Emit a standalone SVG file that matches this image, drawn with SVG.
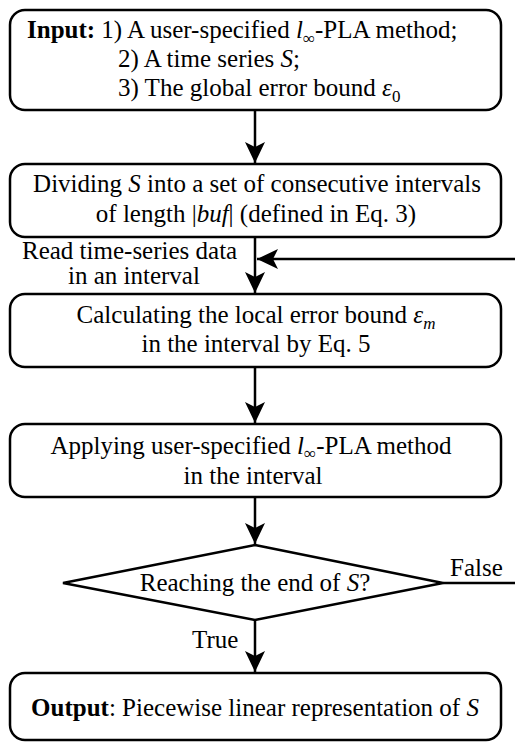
<svg xmlns="http://www.w3.org/2000/svg" width="515" height="744" viewBox="0 0 515 744">
  <defs>
    <marker id="arrow" markerUnits="userSpaceOnUse" markerWidth="24" markerHeight="24" viewBox="-22 -11 24 22" refX="0" refY="0" orient="auto">
      <path d="M0,0 L-21,-10 L-16,0 L-21,10 Z" fill="#000"/>
    </marker>
    <style>
      .box { fill: #fff; stroke: #000; stroke-width: 2.5; }
      .edge { fill: none; stroke: #000; stroke-width: 2.5; }
      text { font-family: "Liberation Serif", "Times New Roman", serif; font-size: 25px; fill: #000; }
      .c { text-anchor: middle; }
      .i { font-style: italic; }
      .b { font-weight: bold; }
    </style>
  </defs>

  <rect width="515" height="744" fill="#fff"/>

  <!-- connectors -->
  <g id="connectors">
    <path class="edge" d="M255,110 V163" marker-end="url(#arrow)"/>
    <path class="edge" d="M255,237 V293" marker-end="url(#arrow)"/>
    <path class="edge" d="M515,259 H257" marker-end="url(#arrow)"/>
    <path class="edge" d="M255,367 V423" marker-end="url(#arrow)"/>
    <path class="edge" d="M255,497 V544" marker-end="url(#arrow)"/>
    <path class="edge" d="M255,620 V672" marker-end="url(#arrow)"/>
    <path class="edge" d="M443,583 H515"/>
    <text x="22" y="259">Read time-series data</text>
    <text x="68" y="284">in an interval</text>
    <text x="450" y="576">False</text>
    <text x="192" y="648">True</text>
  </g>

  <!-- input -->
  <g id="input">
    <rect class="box" x="10" y="10" width="491" height="100" rx="15"/>
    <text x="27" y="38"><tspan class="b">Input:</tspan> 1) A user-specified <tspan class="i">l</tspan><tspan font-size="17" dy="6">∞</tspan><tspan dy="-6">-PLA method;</tspan></text>
    <text x="118" y="67">2) A time series <tspan class="i">S</tspan>;</text>
    <text x="118" y="96">3) The global error bound <tspan class="i">ε</tspan><tspan font-size="17" dy="6">0</tspan></text>
  </g>

  <!-- divide -->
  <g id="divide">
    <rect class="box" x="10" y="164" width="491" height="73" rx="15"/>
    <text class="c" x="257" y="192">Dividing <tspan class="i">S</tspan> into a set of consecutive intervals</text>
    <text class="c" x="256" y="222">of length |<tspan class="i">buf</tspan>| (defined in Eq. 3)</text>
  </g>

  <!-- local bound -->
  <g id="local-bound">
    <rect class="box" x="10" y="294" width="491" height="73" rx="15"/>
    <text class="c" x="256" y="323">Calculating the local error bound <tspan class="i">ε</tspan><tspan class="i" font-size="17" dy="6">m</tspan></text>
    <text class="c" x="256" y="352">in the interval by Eq. 5</text>
  </g>

  <!-- apply PLA -->
  <g id="apply-pla">
    <rect class="box" x="10" y="424" width="491" height="73" rx="15"/>
    <text class="c" x="251" y="454">Applying user-specified <tspan class="i">l</tspan><tspan font-size="17" dy="5">∞</tspan><tspan dy="-5">-PLA method</tspan></text>
    <text class="c" x="253" y="484">in the interval</text>
  </g>

  <!-- decision -->
  <g id="decision">
    <polygon class="box" points="255,545 443,583 255,620 63,583"/>
    <text class="c" x="255" y="591">Reaching the end of <tspan class="i">S</tspan>?</text>
  </g>

  <!-- output -->
  <g id="output">
    <rect class="box" x="10" y="673" width="491" height="67" rx="15"/>
    <text class="c" x="255" y="716"><tspan class="b">Output</tspan>: Piecewise linear representation of <tspan class="i">S</tspan></text>
  </g>
</svg>
